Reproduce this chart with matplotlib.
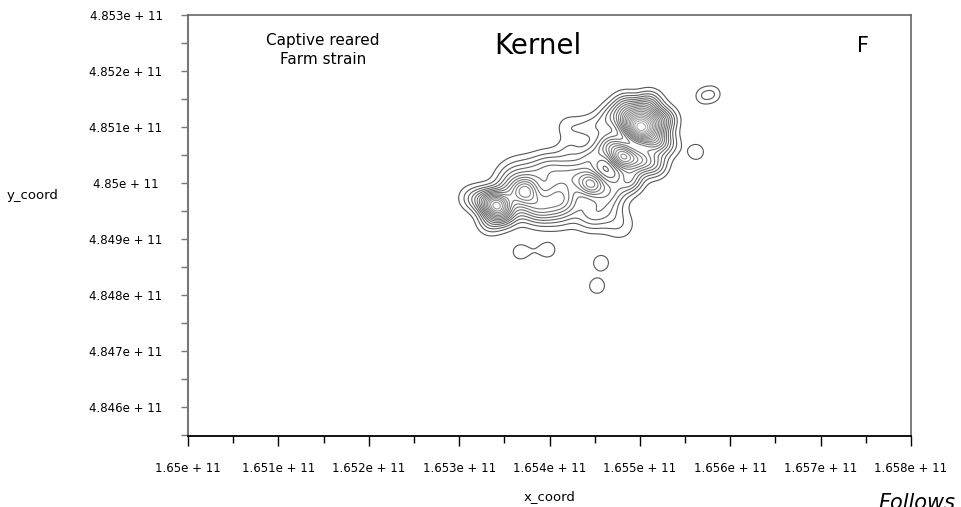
import numpy as np
import matplotlib
matplotlib.use("Agg")
import matplotlib.pyplot as plt
from matplotlib.ticker import FixedLocator
from matplotlib.colors import LinearSegmentedColormap

# kernel centres (x_coord, y_coord), weights and bandwidths (x units)
kx = np.array([
    # main peak block
    1.655001, 1.654869, 1.655134, 1.655001, 1.655167, 1.655278, 1.654835, 1.655112,
    1.655311, 1.654692, 1.654559, 1.654813, 1.655001, 1.655167, 1.654692, 1.654891,
    1.654559, 1.654205, 1.654393, 1.654448, 1.654227,
    # middle ridge
    1.654459, 1.654669, 1.654282, 1.654614, 1.654780, 1.654448, 1.654172, 1.654061,
    1.653950, 1.654061, 1.653740, 1.653784, 1.653585, 1.653563, 1.653840,
    1.653674, 1.653950, 1.654116, 1.653895,
    # west peak
    1.653408, 1.653275, 1.653508, 1.653120, 1.653342,
    # isolated patches
    1.655699, 1.655809, 1.655621, 1.653674, 1.653829, 1.653983, 1.654570, 1.654526,
]) * 1e11
ky = np.array([
    4.850946, 4.851089, 4.851089, 4.851268, 4.850768, 4.851125, 4.851393, 4.851429,
    4.850679, 4.851214, 4.851036, 4.850464, 4.850411, 4.850321, 4.850679, 4.850054,
    4.850589, 4.851000, 4.850982, 4.850411, 4.850589,
    4.849982, 4.849875, 4.850143, 4.849518, 4.849250, 4.849429, 4.849696, 4.849875,
    4.849607, 4.850232, 4.849875, 4.849607, 4.849786, 4.850089, 4.850143,
    4.850232, 4.850321, 4.849429, 4.849482,
    4.849607, 4.849696, 4.849429, 4.849732, 4.849304,
    4.851554, 4.851589, 4.850554, 4.848768, 4.848786, 4.848804, 4.848571, 4.848161,
]) * 1e11
kw = np.array([
    14.0, 7.5, 7.5, 6.0, 7.0, 4.5, 4.0, 4.0,
    2.5, 3.0, 2.0, 11.0, 6.5, 4.0, 5.0, 5.0,
    2.2, 1.5, 1.6, 3.0, 1.6,
    8.0, 4.6, 4.6, 2.4, 1.7, 3.2, 4.6, 2.9,
    3.2, 2.9, 6.5, 3.6, 4.4, 2.2, 2.4,
    1.3, 1.4, 1.8, 1.8,
    11.0, 4.5, 4.5, 2.0, 3.0,
    1.7, 1.7, 1.9, 1.7, 0.7, 1.7, 1.9, 1.9,
])
kh = np.array(
    [9.96e6] * 21
    + [9.96e6] + [1.25e7] * 9 + [9.96e6] + [1.25e7] * 8
    + [9.96e6] * 5
    + [7.2e6] * 8
)

x_ticks = [1.650e11, 1.651e11, 1.652e11, 1.653e11, 1.654e11, 1.655e11, 1.656e11, 1.657e11, 1.658e11]
x_labels = ["1.65e + 11", "1.651e + 11", "1.652e + 11", "1.653e + 11", "1.654e + 11",
            "1.655e + 11", "1.656e + 11", "1.657e + 11", "1.658e + 11"]
y_ticks = [4.846e11, 4.847e11, 4.848e11, 4.849e11, 4.850e11, 4.851e11, 4.852e11, 4.853e11]
y_labels = ["4.846e + 11", "4.847e + 11", "4.848e + 11", "4.849e + 11", "4.85e + 11",
            "4.851e + 11", "4.852e + 11", "4.853e + 11"]

XLIM = (1.650e11, 1.658e11)
YLIM = (4.84548e11, 4.853e11)
Y_OVER_X = 1.6138  # pixel aspect between the two axes


def density(gx, gy):
    z = np.zeros_like(gx)
    for cx, cy, w, h in zip(kx, ky, kw, kh):
        z += w * np.exp(-0.5 * (((gx - cx) / h) ** 2 + ((gy - cy) / (h * Y_OVER_X)) ** 2))
    return z


def main():
    gx, gy = np.meshgrid(np.linspace(*XLIM, 700), np.linspace(*YLIM, 700))
    z = density(gx, gy)
    levels = np.arange(1.0, z.max(), 1.0)

    fig = plt.figure(figsize=(9.61, 5.07), dpi=100)
    ax = fig.add_axes([188 / 961, 1 - 436 / 507, (911 - 188) / 961, (436 - 15) / 507])

    cmap = LinearSegmentedColormap.from_list("g", ["#555555", "#b0b0b0"])
    ax.contour(gx, gy, z, levels=levels, cmap=cmap, linewidths=0.8)

    ax.set_xlim(*XLIM)
    ax.set_ylim(*YLIM)

    ax.xaxis.set_major_locator(FixedLocator(x_ticks))
    ax.xaxis.set_minor_locator(FixedLocator([t + 0.5e8 for t in x_ticks[:-1]]))
    ax.set_xticklabels(x_labels, fontsize=8.5)
    ax.yaxis.set_major_locator(FixedLocator(y_ticks))
    ax.yaxis.set_minor_locator(FixedLocator([t - 0.5e8 for t in y_ticks]))
    ax.set_yticklabels(y_labels, fontsize=8.5)
    for lab in ax.get_yticklabels():
        lab.set_horizontalalignment("center")

    ax.tick_params(axis="x", which="major", length=7, width=1, color="black", pad=12)
    ax.tick_params(axis="x", which="minor", length=5, width=1, color="black")
    ax.tick_params(axis="y", which="both", length=5, width=1, color="#777777", pad=39.6)

    ax.spines["left"].set_color("#777777")
    ax.spines["left"].set_linewidth(1.5)
    ax.spines["bottom"].set_color("black")
    ax.spines["bottom"].set_linewidth(1.3)
    for s in ("top", "right"):
        ax.spines[s].set_color("#666666")
        ax.spines[s].set_linewidth(1.2)

    fig.text(33 / 961, 1 - 195 / 507, "y_coord", fontsize=9.5, ha="center", va="center")
    fig.text(550 / 961, 1 - 497 / 507, "x_coord", fontsize=9.5, ha="center", va="center")
    fig.text(878 / 961, 1 - 493 / 507, "Follows", fontsize=15, style="italic", ha="left", va="top")

    fig.text(323 / 961, 1 - 50 / 507, "Captive reared\nFarm strain", fontsize=11,
             ha="center", va="center", linespacing=1.3)
    fig.text(538 / 961, 1 - 46 / 507, "Kernel", fontsize=20, ha="center", va="center")
    fig.text(863 / 961, 1 - 46 / 507, "F", fontsize=15, ha="center", va="center")

    fig.savefig("out.png", dpi=100)
    plt.close(fig)


if __name__ == "__main__":
    main()
